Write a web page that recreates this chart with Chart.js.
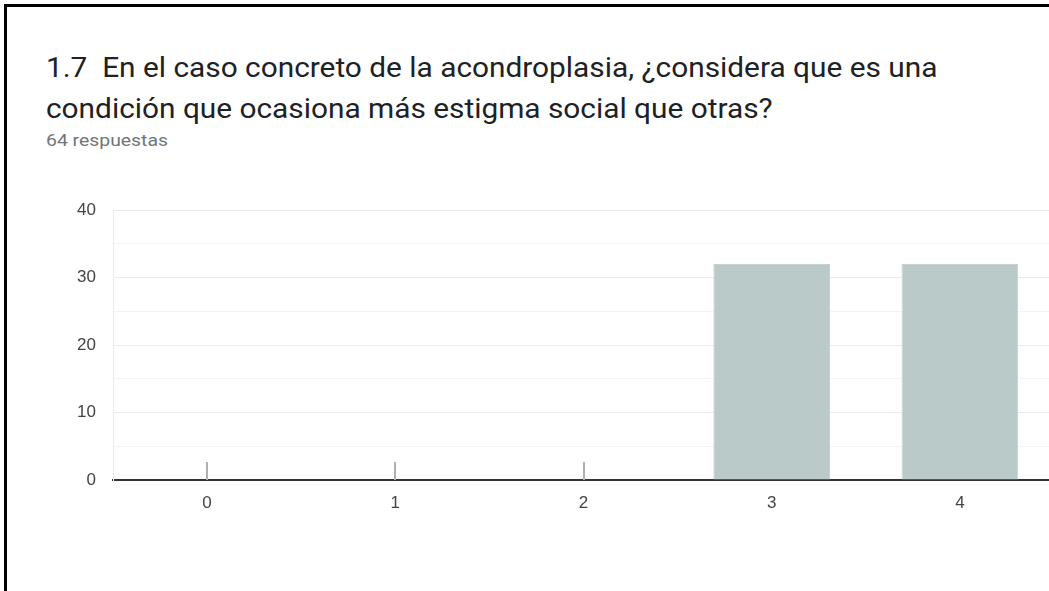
<!DOCTYPE html>
<html>
<head>
<meta charset="utf-8">
<script src="https://cdn.jsdelivr.net/npm/chart.js@4"></script>
<style>
  html, body { margin: 0; padding: 0; background: #fff; overflow: hidden; }
  body { width: 1049px; height: 591px; position: relative; }
  .frame-top { position: absolute; left: 4px; top: 4px; width: 1045px; height: 3px; background: #000; }
  .frame-left { position: absolute; left: 4px; top: 4px; width: 3px; height: 587px; background: #000; }
  .title {
    position: absolute; left: 46px; top: 47px;
    font-family: Roboto, sans-serif; font-size: 28px; line-height: 41px;
    color: #202124; white-space: nowrap;
    transform: scaleX(1.065); transform-origin: left top;
  }
  .count {
    position: absolute; left: 46px; top: 130px;
    font-family: Roboto, sans-serif; font-size: 17px; color: #70757a;
    transform: scaleX(1.14); transform-origin: left top;
  }
  .wrap { position: absolute; left: 0; top: 0; width: 1060px; height: 591px; }
</style>
</head>
<body>
<div class="frame-top"></div>
<div class="frame-left"></div>
<div class="title">1.7&nbsp; En el caso concreto de la acondroplasia, ¿considera que es una<br>condición que ocasiona más estigma social que otras?</div>
<div class="count">64 respuestas</div>
<div class="wrap"><canvas id="chart"></canvas></div>
<script>
// Chart data
const categories = ['0', '1', '2', '3', '4'];
const responses = [0, 0, 0, 32, 32];
const yTicks = [0, 10, 20, 30, 40];

// small grey stub for empty answers, like the forms summary
const zeroStub = {
    id: 'zeroStub',
    afterDatasetsDraw(chart) {
        const ctx = chart.ctx;
        const x = chart.scales.x;
        const y = chart.scales.y;
        const base = y.getPixelForValue(0);
        ctx.save();
        ctx.strokeStyle = '#b0b0b0';
        ctx.lineWidth = 2;
        responses.forEach((v, i) => {
            if (v !== 0) return;
            const px = Math.round(x.getPixelForValue(i));
            ctx.beginPath();
            ctx.moveTo(px, base);
            ctx.lineTo(px, base - 18);
            ctx.stroke();
        });
        ctx.restore();
    }
};

new Chart(document.getElementById('chart'), {
    type: 'bar',
    data: {
        labels: categories,
        datasets: [{
            data: responses,
            backgroundColor: '#b9cac8',
            borderColor: '#c4d3d1',
            borderWidth: 1,
            barPercentage: 0.62,
            categoryPercentage: 1
        }]
    },
    options: {
        responsive: true,
        maintainAspectRatio: false,
        animation: false,
        layout: { padding: { left: 0, right: 6, top: 210, bottom: 0 } },
        plugins: {
            legend: { display: false },
            tooltip: { enabled: false }
        },
        scales: {
            x: {
                afterFit(scale) { scale.height = 111; },
                grid: { display: false, drawTicks: false },
                border: { display: true, color: '#333', width: 2 },
                ticks: {
                    color: '#444',
                    padding: 13,
                    font: { family: 'Liberation Sans, Arial, sans-serif', size: 17 }
                }
            },
            y: {
                min: yTicks[0],
                max: yTicks[yTicks.length - 1],
                afterFit(scale) { scale.width = 113; },
                border: { display: true, color: '#ebebeb', width: 1 },
                grid: {
                    drawTicks: false,
                    color: ctx => (ctx.tick.value % 10 === 0 ? '#ebebeb' : '#f4f4f4')
                },
                ticks: {
                    stepSize: 5,
                    padding: 17,
                    color: '#444',
                    font: { family: 'Liberation Sans, Arial, sans-serif', size: 17 },
                    callback: value => (yTicks.includes(value) ? value : '')
                }
            }
        }
    },
    plugins: [zeroStub]
});
</script>
</body>
</html>
